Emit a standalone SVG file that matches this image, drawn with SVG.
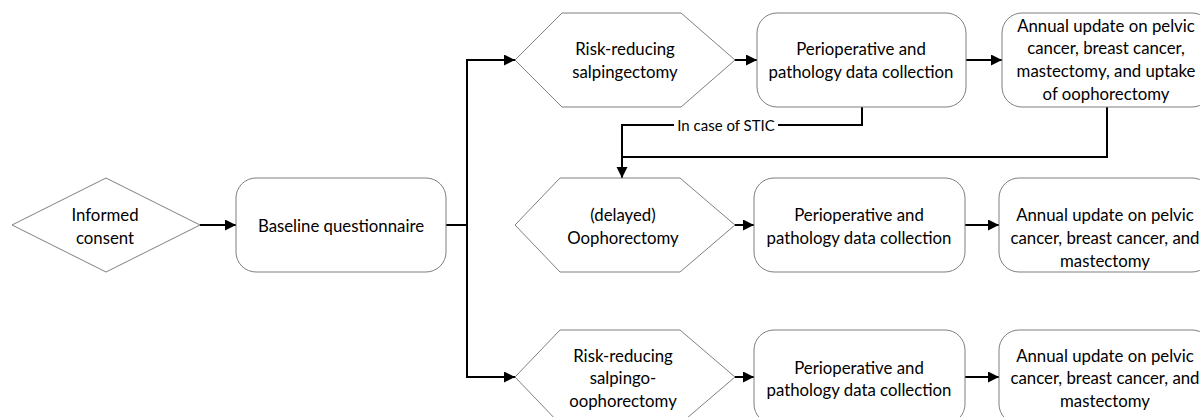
<svg xmlns="http://www.w3.org/2000/svg" width="1200" height="417" viewBox="0 0 1200 417">
<style>
.n{fill:#fff;stroke:#7f7f7f;stroke-width:1}
.t{font-family:Lato,"Liberation Sans",sans-serif;font-size:16.8px;fill:#000;text-anchor:middle;dominant-baseline:central}
.c{fill:none;stroke:#000;stroke-width:2}
.lbl{font-family:Lato,"Liberation Sans",sans-serif;font-size:15px;fill:#000;text-anchor:middle;dominant-baseline:central}
</style>
<defs>
<marker id="ah" markerUnits="userSpaceOnUse" markerWidth="12" markerHeight="12" refX="11" refY="5.5" orient="auto">
<path d="M0,0 L11,5.5 L0,11 z" fill="#000"/>
</marker>
</defs>
<rect width="1200" height="417" fill="#fff"/>
<g id="connectors">
<line class="c" x1="200" y1="225" x2="236" y2="225" marker-end="url(#ah)"/>
<polyline class="c" points="446,225 467,225"/>
<polyline class="c" points="467,60 467,377"/>
<line class="c" x1="466" y1="60" x2="515" y2="60" marker-end="url(#ah)"/>
<line class="c" x1="466" y1="377" x2="515" y2="377" marker-end="url(#ah)"/>
<line class="c" x1="735" y1="60" x2="757" y2="60" marker-end="url(#ah)"/>
<line class="c" x1="735" y1="225" x2="754" y2="225" marker-end="url(#ah)"/>
<line class="c" x1="735" y1="377" x2="754" y2="377" marker-end="url(#ah)"/>
<line class="c" x1="966" y1="60" x2="1002" y2="60" marker-end="url(#ah)"/>
<line class="c" x1="965" y1="225" x2="999" y2="225" marker-end="url(#ah)"/>
<line class="c" x1="965" y1="377" x2="999" y2="377" marker-end="url(#ah)"/>
<polyline class="c" points="862,107 862,125 778,125"/>
<polyline class="c" points="674,125 622,125 622,178" marker-end="url(#ah)"/>
<polyline class="c" points="1107,107 1107,157 622,157"/>
<text class="lbl" x="726" y="125">In case of STIC</text>
</g>
<g id="informed-consent">
<polygon class="n" points="12,225 106,178 200,225 106,272"/>
<text class="t" x="105" y="214">Informed</text>
<text class="t" x="105" y="237">consent</text>
</g>
<g id="baseline">
<rect class="n" x="236" y="178" width="210" height="94" rx="20"/>
<text class="t" x="341" y="225">Baseline questionnaire</text>
</g>
<g id="rrs">
<polygon class="n" points="515,60 562,13 681,13 735,60 681,107 562,107"/>
<text class="t" x="625" y="48">Risk-reducing</text>
<text class="t" x="625" y="71">salpingectomy</text>
</g>
<g id="data1">
<rect class="n" x="757" y="13" width="209" height="94" rx="20"/>
<text class="t" x="861" y="48">Perioperative and</text>
<text class="t" x="861" y="71">pathology data collection</text>
</g>
<g id="annual1">
<rect class="n" x="1002" y="13" width="210" height="94" rx="20"/>
<text class="t" x="1106" y="25">Annual update on pelvic</text>
<text class="t" x="1106" y="47">cancer, breast cancer,</text>
<text class="t" x="1106" y="70">mastectomy, and uptake</text>
<text class="t" x="1106" y="93">of oophorectomy</text>
</g>
<g id="oophorectomy">
<polygon class="n" points="515,225 560,178 680,178 735,225 680,272 560,272"/>
<text class="t" x="623" y="214">(delayed)</text>
<text class="t" x="623" y="237">Oophorectomy</text>
</g>
<g id="data2">
<rect class="n" x="754" y="178" width="211" height="94" rx="20"/>
<text class="t" x="859" y="214">Perioperative and</text>
<text class="t" x="859" y="237">pathology data collection</text>
</g>
<g id="annual2">
<rect class="n" x="999" y="178" width="213" height="94" rx="20"/>
<text class="t" x="1105" y="214">Annual update on pelvic</text>
<text class="t" x="1105" y="237">cancer, breast cancer, and</text>
<text class="t" x="1105" y="260">mastectomy</text>
</g>
<g id="rrso">
<polygon class="n" points="515,377 560,330 680,330 735,377 680,424 560,424"/>
<text class="t" x="623" y="355">Risk-reducing</text>
<text class="t" x="623" y="377">salpingo-</text>
<text class="t" x="623" y="400">oophorectomy</text>
</g>
<g id="data3">
<rect class="n" x="754" y="330" width="211" height="94" rx="20"/>
<text class="t" x="859" y="367">Perioperative and</text>
<text class="t" x="859" y="389">pathology data collection</text>
</g>
<g id="annual3">
<rect class="n" x="999" y="330" width="213" height="94" rx="20"/>
<text class="t" x="1105" y="355">Annual update on pelvic</text>
<text class="t" x="1105" y="377">cancer, breast cancer, and</text>
<text class="t" x="1105" y="400">mastectomy</text>
</g>
</svg>
